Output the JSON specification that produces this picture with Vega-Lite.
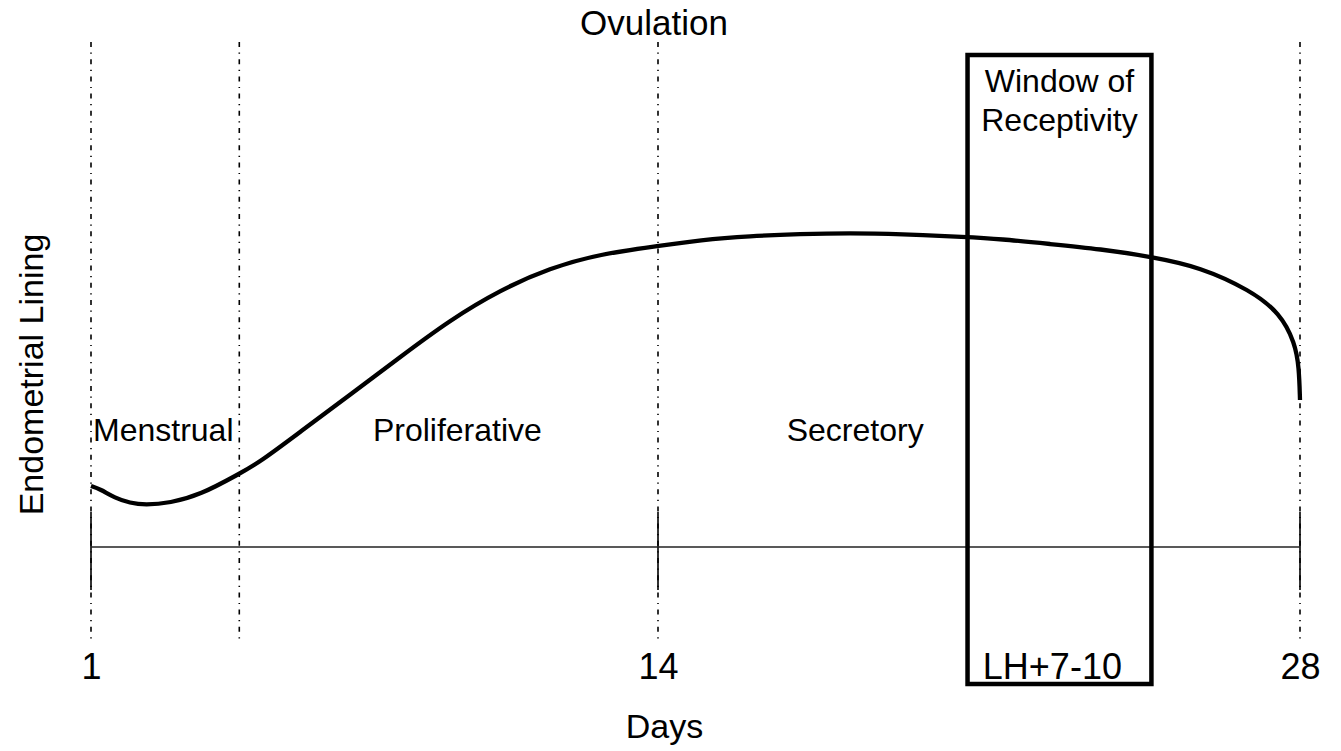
{
  "$schema": "https://vega.github.io/schema/vega-lite/v6.json",
  "width": 1209,
  "height": 600,
  "autosize": {"type": "none"},
  "padding": {"left": 91, "top": 42, "right": 41, "bottom": 109},
  "background": "white",
  "config": {
    "view": {"stroke": null},
    "font": "Liberation Sans",
    "text": {"font": "Liberation Sans", "color": "black"}
  },
  "datasets": {
    "curve": [
      {"day": 1.0, "lining": 12.2},
      {"day": 1.206, "lining": 11.6},
      {"day": 1.55, "lining": 9.8},
      {"day": 1.894, "lining": 8.8},
      {"day": 2.238, "lining": 8.4},
      {"day": 2.811, "lining": 8.8},
      {"day": 3.499, "lining": 10.4},
      {"day": 4.393, "lining": 14.6},
      {"day": 4.875, "lining": 17.0},
      {"day": 5.792, "lining": 23.0},
      {"day": 6.938, "lining": 30.4},
      {"day": 8.085, "lining": 38.0},
      {"day": 9.231, "lining": 45.4},
      {"day": 10.377, "lining": 51.4},
      {"day": 11.524, "lining": 55.8},
      {"day": 12.67, "lining": 58.6},
      {"day": 14.0, "lining": 60.2},
      {"day": 14.916, "lining": 61.4},
      {"day": 16.006, "lining": 62.2},
      {"day": 17.097, "lining": 62.6},
      {"day": 18.187, "lining": 62.8},
      {"day": 19.277, "lining": 62.6},
      {"day": 20.738, "lining": 62.0},
      {"day": 21.458, "lining": 61.6},
      {"day": 22.548, "lining": 60.6},
      {"day": 23.639, "lining": 59.6},
      {"day": 24.794, "lining": 58.0},
      {"day": 25.819, "lining": 56.0},
      {"day": 26.91, "lining": 51.4},
      {"day": 27.564, "lining": 46.8},
      {"day": 27.891, "lining": 40.8},
      {"day": 27.978, "lining": 36.0},
      {"day": 28.0, "lining": 29.4}
    ],
    "boundaries": [
      {"day": 1, "name": "Cycle start"},
      {"day": 4.4, "name": "End of menstruation"},
      {"day": 14, "name": "Ovulation"},
      {"day": 28, "name": "Cycle end"}
    ],
    "ticks": [
      {"day": 1},
      {"day": 14},
      {"day": 28}
    ],
    "window": [
      {"start": 20.75, "end": 24.76, "top": 98.4, "bottom": -27.4}
    ],
    "labels": [
      {"kind": "phase-left", "day": 1, "lining": 21.2, "text": "Menstrual"},
      {"kind": "phase", "day": 9.4, "lining": 21.2, "text": "Proliferative"},
      {"kind": "phase", "day": 18.3, "lining": 21.2, "text": "Secretory"},
      {"kind": "top", "day": 14, "lining": 102.4, "text": "Ovulation"},
      {"kind": "window", "day": 22.755, "lining": 91.1, "text": "Window of"},
      {"kind": "window", "day": 22.755, "lining": 83.3, "text": "Receptivity"},
      {"kind": "lh", "day": 22.6, "lining": -26.4, "text": "LH+7-10"}
    ]
  },
  "layer": [
    {
      "data": {"name": "curve"},
      "mark": {"type": "line", "color": "black", "strokeWidth": 4.3, "interpolate": "basis", "strokeCap": "butt", "strokeJoin": "round"},
      "encoding": {
        "x": {
          "field": "day",
          "type": "quantitative",
          "title": "Days",
          "scale": {"domain": [1, 14, 28], "range": [0, 567, 1209], "nice": false, "zero": false},
          "axis": {
            "values": [1, 14, 28],
            "format": "d",
            "domain": false,
            "grid": false,
            "ticks": false,
            "tickSize": 0,
            "labelPadding": 8,
            "labelFontSize": 36,
            "labelFont": "Liberation Sans",
            "labelColor": "black",
            "labelFlush": false,
            "title": "Days",
            "titleFont": "Liberation Sans",
            "titleFontSize": 34,
            "titleFontWeight": "normal",
            "titleColor": "black",
            "titleBaseline": "alphabetic",
            "titleAlign": "center",
            "titleX": 573,
            "titleY": 95
          }
        },
        "y": {
          "field": "lining",
          "type": "quantitative",
          "title": "Endometrial Lining",
          "scale": {"domain": [-19, 101], "nice": false, "zero": false},
          "axis": {
            "domain": false,
            "grid": false,
            "ticks": false,
            "labels": false,
            "title": "Endometrial Lining",
            "titleFont": "Liberation Sans",
            "titleFontSize": 34,
            "titleFontWeight": "normal",
            "titleColor": "black",
            "titleAngle": -90,
            "titleBaseline": "alphabetic",
            "titleAlign": "center",
            "titleX": -49,
            "titleY": 332
          }
        }
      }
    },
    {
      "data": {"name": "boundaries"},
      "mark": {"type": "rule", "color": "black", "strokeWidth": 1.6, "strokeDash": [5, 5.5, 1.2, 5.5]},
      "encoding": {
        "x": {"field": "day", "type": "quantitative", "title": "Days"},
        "y": {"datum": 101, "type": "quantitative", "title": "Endometrial Lining"},
        "y2": {"datum": -19}
      }
    },
    {
      "data": {"name": "ticks"},
      "mark": {"type": "rule", "color": "black", "strokeWidth": 1.6},
      "encoding": {
        "x": {"field": "day", "type": "quantitative", "title": "Days"},
        "y": {"datum": 7, "type": "quantitative", "title": "Endometrial Lining"},
        "y2": {"datum": -8.6}
      }
    },
    {
      "data": {"values": [{"from": 1, "to": 28, "level": 0}]},
      "mark": {"type": "rule", "color": "#222222", "strokeWidth": 1.7},
      "encoding": {
        "x": {"field": "from", "type": "quantitative", "title": "Days"},
        "x2": {"field": "to"},
        "y": {"field": "level", "type": "quantitative", "title": "Endometrial Lining"}
      }
    },
    {
      "data": {"name": "window"},
      "mark": {"type": "rect", "fill": "white", "fillOpacity": 0, "stroke": "black", "strokeWidth": 4.5},
      "encoding": {
        "x": {"field": "start", "type": "quantitative", "title": "Days"},
        "x2": {"field": "end"},
        "y": {"field": "top", "type": "quantitative", "title": "Endometrial Lining"},
        "y2": {"field": "bottom"}
      }
    },
    {
      "data": {"name": "labels"},
      "transform": [{"filter": "datum.kind === 'phase-left'"}],
      "mark": {"type": "text", "fontSize": 32, "align": "left", "baseline": "alphabetic", "dx": 2},
      "encoding": {
        "x": {"field": "day", "type": "quantitative", "title": "Days"},
        "y": {"field": "lining", "type": "quantitative", "title": "Endometrial Lining"},
        "text": {"field": "text"}
      }
    },
    {
      "data": {"name": "labels"},
      "transform": [{"filter": "datum.kind === 'phase' || datum.kind === 'window'"}],
      "mark": {"type": "text", "fontSize": 32, "align": "center", "baseline": "alphabetic"},
      "encoding": {
        "x": {"field": "day", "type": "quantitative", "title": "Days"},
        "y": {"field": "lining", "type": "quantitative", "title": "Endometrial Lining"},
        "text": {"field": "text"}
      }
    },
    {
      "data": {"name": "labels"},
      "transform": [{"filter": "datum.kind === 'top'"}],
      "mark": {"type": "text", "fontSize": 35, "align": "center", "baseline": "alphabetic", "dx": -4},
      "encoding": {
        "x": {"field": "day", "type": "quantitative", "title": "Days"},
        "y": {"field": "lining", "type": "quantitative", "title": "Endometrial Lining"},
        "text": {"field": "text"}
      }
    },
    {
      "data": {"name": "labels"},
      "transform": [{"filter": "datum.kind === 'lh'"}],
      "mark": {"type": "text", "fontSize": 36, "align": "center", "baseline": "alphabetic"},
      "encoding": {
        "x": {"field": "day", "type": "quantitative", "title": "Days"},
        "y": {"field": "lining", "type": "quantitative", "title": "Endometrial Lining"},
        "text": {"field": "text"}
      }
    }
  ]
}
